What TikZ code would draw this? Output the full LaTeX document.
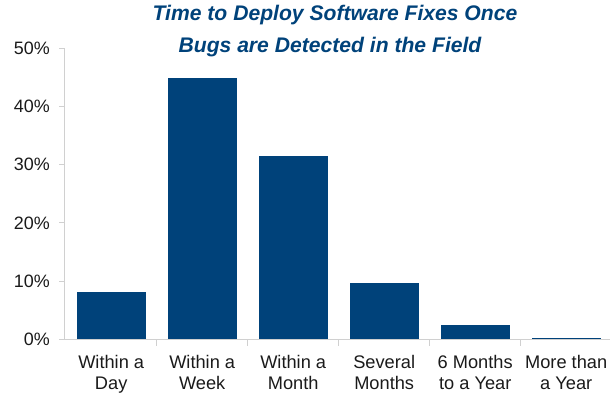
\documentclass[tikz,border=0pt]{standalone}
\usepackage{fontspec}
\setmainfont{Liberation Sans}
\definecolor{barblue}{HTML}{00427A}
\definecolor{axisgray}{HTML}{D0D0D0}
\definecolor{labelink}{HTML}{1A1A1A}
\tikzset{
  bar/.style={fill=barblue, draw=none},
  axisline/.style={draw=axisgray, line width=1bp},
  ylabel/.style={anchor=east, inner sep=0pt, text=labelink, font=\fontsize{18}{21}\selectfont},
  catlabel/.style={anchor=north, inner sep=0pt, align=center, text=labelink, font=\fontsize{18.3}{21.5}\selectfont},
  titleline/.style={anchor=base, inner sep=0pt, text=barblue, font=\fontsize{21.2}{24}\selectfont\bfseries\itshape},
}
\begin{document}
\begin{tikzpicture}[x=1bp, y=-1bp]
  \useasboundingbox (0,0) rectangle (610,393);

  % title
  \node[titleline] (t1) at (335,20.5) {Time to Deploy Software Fixes Once};
  \node[titleline] (t2) at (330,52) {Bugs are Detected in the Field};

  % value axis with ticks and labels
  \coordinate (ytop) at (64,48.2);
  \coordinate (origin) at (64,339.3);
  \coordinate (xend) at (610,339.3);
  \draw[axisline] (ytop) -- (origin);
  \draw[axisline] (origin) -- (xend);
  \foreach \v [count=\i from 0] in {0,10,20,30,40,50} {
    \draw[axisline] (59,339.3-5.82*\v) -- (64,339.3-5.82*\v);
    \node[ylabel] (y\i) at (50,339.3-5.82*\v) {\v\%};
  }

  % category separators
  \foreach \k in {0,...,5} {
    \draw[axisline] (156.7+91*\k,339.3) -- (156.7+91*\k,345.5);
  }

  % bars
  \foreach \v [count=\i from 0] in {8.1,44.9,31.5,9.7,2.4,0.3} {
    \fill[bar] (76.7+91*\i,339.3) rectangle (145.7+91*\i,339.3-5.82*\v);
  }

  % category labels
  \node[catlabel] (c1) at (111.2,355) {Within a\\Day};
  \node[catlabel] (c2) at (202.2,355) {Within a\\Week};
  \node[catlabel] (c3) at (293.2,355) {Within a\\Month};
  \node[catlabel] (c4) at (384.2,355) {Several\\Months};
  \node[catlabel] (c5) at (475.2,355) {6 Months\\to a Year};
  \node[catlabel] (c6) at (566.2,355) {More than\\a Year};
\end{tikzpicture}
\end{document}
